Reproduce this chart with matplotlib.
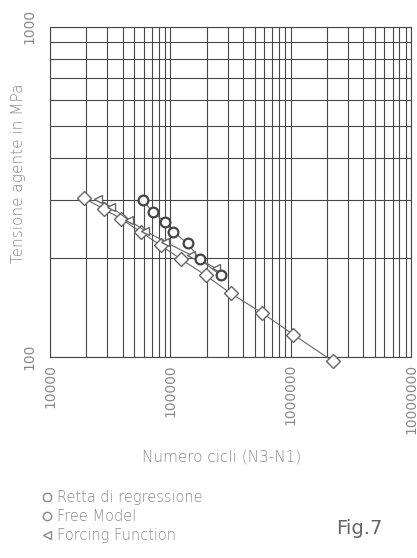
import matplotlib
matplotlib.use("Agg")
import matplotlib.pyplot as plt
from matplotlib.lines import Line2D
from matplotlib.ticker import FixedLocator, NullFormatter

# regression line (diamonds)
n_regr = [19000, 28000, 39000, 57000, 83000, 122000, 196000, 316000, 580000, 1050000, 2250000]
s_regr = [303, 281, 262, 239, 218, 198, 177, 156, 136, 117, 97]

# free model (circles)
n_free = [59000, 71000, 91000, 106000, 139000, 175000, 261000]
s_free = [299, 275, 256, 239, 221, 198, 177]

# forcing function (left triangles)
n_forc = [25000, 32000, 45000, 62000, 91000, 147000, 237000]
s_forc = [301, 285, 260, 241, 223, 204, 186]

x_ticks = [1e4, 1e5, 1e6, 1e7]
x_labels = ["10000", "100000", "1000000", "10000000"]
y_ticks = [100, 1000]
y_labels = ["100", "1000"]

grid_c = "#484848"
text_c = "#8a8a8a"
mark_c = "#666666"

fig = plt.figure(figsize=(4.17, 5.58), dpi=100)
ax = fig.add_axes([0.120, 0.360, 0.866, 0.592])
ax.set_xscale("log")
ax.set_yscale("log")
ax.set_xlim(1e4, 1e7)
ax.set_ylim(100, 1000)

# grid, major and minor look the same
ax.xaxis.set_minor_locator(FixedLocator([m * 10 ** e for e in (4, 5, 6) for m in range(2, 10)]))
ax.yaxis.set_minor_locator(FixedLocator([m * 100 for m in range(2, 10)]))
ax.xaxis.set_minor_formatter(NullFormatter())
ax.yaxis.set_minor_formatter(NullFormatter())
ax.grid(True, which="both", color=grid_c, lw=0.8)
ax.tick_params(which="both", length=0)
for sp in ax.spines.values():
    sp.set_color(grid_c)
    sp.set_linewidth(0.8)

ax.set_xticks(x_ticks)
ax.set_xticklabels(x_labels, rotation=90, va="top", color=text_c, fontsize=10)
ax.set_yticks(y_ticks)
ax.set_yticklabels(y_labels, rotation=90, va="center", ha="right", color=text_c, fontsize=10)
ax.tick_params(axis="x", pad=5)
ax.tick_params(axis="y", pad=10)

ax.plot(n_regr, s_regr, "-", color=mark_c, lw=0.8, marker="D", ms=7,
        mfc="white", mec=mark_c, mew=1.0, clip_on=False, zorder=3)
ax.plot(n_forc, s_forc, "-", color=mark_c, lw=0.8, marker="<", ms=6,
        mfc="white", mec=mark_c, mew=1.0, clip_on=False, zorder=4)
ax.plot(n_free, s_free, "-", color=mark_c, lw=0.8, marker="o", ms=7,
        mfc="white", mec="#444444", mew=1.6, clip_on=False, zorder=5)

fig.text(0.045, 0.69, "Tensione agente in MPa", rotation=90, ha="center",
         va="center", color=text_c, fontsize=11, fontweight="light")
fig.text(0.532, 0.181, "Numero cicli (N3-N1)", ha="center", va="center",
         color=text_c, fontsize=11, fontweight="light")

# legend below the chart
leg_items = [("8", "Retta di regressione"), ("o", "Free Model"), ("<", "Forcing Function")]
for i, (m, lab) in enumerate(leg_items):
    yy = 0.109 - i * 0.034
    fig.add_artist(Line2D([0.112], [yy], marker=m, ms=6,
                          mfc="white", mec=text_c, mew=1.0, ls="none"))
    fig.text(0.137, yy, lab, ha="left", va="center", color=text_c,
             fontsize=10.5, fontweight="light")

fig.text(0.862, 0.053, "Fig.7", ha="center", va="center", color="#666666",
         fontsize=14, family=["Liberation Sans Narrow", "DejaVu Sans"])

fig.savefig("out.png", dpi=100)
